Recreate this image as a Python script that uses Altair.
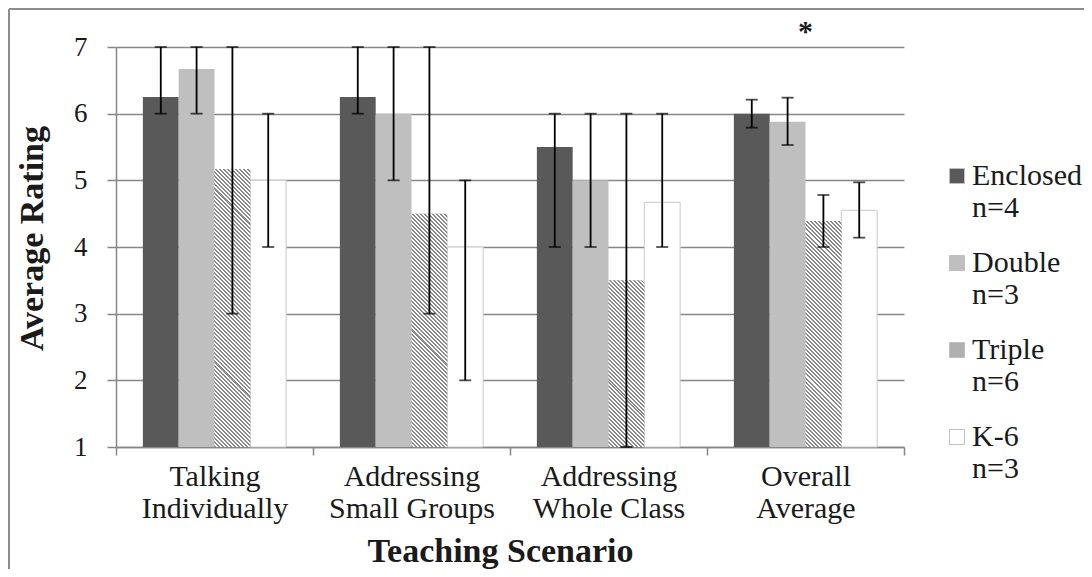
import altair as alt
import pandas as pd

# ---- data ----
categories = ["Talking Individually", "Addressing Small Groups", "Addressing Whole Class", "Overall Average"]
groups = ["Enclosed", "Double", "Triple", "K-6"]
group_n = [4, 3, 6, 3]

enclosed_mean = [6.25, 6.25, 5.5, 6.0]
double_mean = [6.67, 6.0, 5.0, 5.88]
triple_mean = [5.17, 4.5, 3.5, 4.39]
k6_mean = [5.0, 4.0, 4.67, 4.55]

enclosed_low = [6.0, 6.0, 4.0, 5.79]
double_low = [6.0, 5.0, 4.0, 5.53]
triple_low = [3.0, 3.0, 1.0, 4.0]
k6_low = [4.0, 2.0, 4.0, 4.14]

enclosed_high = [7.0, 7.0, 6.0, 6.21]
double_high = [7.0, 7.0, 6.0, 6.24]
triple_high = [7.0, 7.0, 6.0, 4.78]
k6_high = [6.0, 5.0, 6.0, 4.97]

star_category = ["Overall Average"]
star_y = [7.22]

y_ticks = [1, 2, 3, 4, 5, 6, 7]

# ---- build table ----
means = [enclosed_mean, double_mean, triple_mean, k6_mean]
lows = [enclosed_low, double_low, triple_low, k6_low]
highs = [enclosed_high, double_high, triple_high, k6_high]
rows = []
for gi, g in enumerate(groups):
    for ci, c in enumerate(categories):
        rows.append({"category": c, "group": g, "mean": means[gi][ci],
                     "low": lows[gi][ci], "high": highs[gi][ci]})
df = pd.DataFrame(rows)

# ---- layout ----
W, H = 788, 400
YMIN, YMAX = 1, 7
band = W / len(categories)
bar_w = band / 5.5

FONT = "Liberation Serif"
GRID = "#868686"
TEXT = "#1a1a1a"

xscale = alt.Scale(domain=categories, paddingInner=0, paddingOuter=0)
oscale = alt.Scale(domain=groups, paddingInner=0, paddingOuter=0.75)
yscale = alt.Scale(domain=[YMIN, YMAX], nice=False, zero=False)

label_split = ("[substring(datum.label, 0, indexof(datum.label, ' ')), "
               "substring(datum.label, indexof(datum.label, ' ') + 1)]")
n_map = "{" + ", ".join(f"'{g}': 'n={n}'" for g, n in zip(groups, group_n)) + "}"

x_enc = alt.X("category:N", scale=xscale, title="Teaching Scenario",
              axis=alt.Axis(labelAngle=0, tickBand="extent", labelExpr=label_split,
                            labelFontSize=30, labelLineHeight=32, labelPadding=6,
                            labelColor=TEXT, labelFont=FONT,
                            tickSize=8, tickColor=GRID, domainColor=GRID, domainWidth=1.5,
                            tickWidth=1.5, grid=False,
                            titleFontSize=34, titleFontWeight="bold", titleFont=FONT,
                            titleColor=TEXT, titlePadding=11, titleX=384))
o_enc = alt.XOffset("group:N", scale=oscale)
y_enc = alt.Y("mean:Q", scale=yscale, title="Average Rating",
              axis=alt.Axis(values=y_ticks, format="d", grid=True, gridColor=GRID, gridWidth=1.5,
                            domainColor=GRID, domainWidth=1.5, tickColor=GRID, tickWidth=1.5,
                            tickSize=9, labelFontSize=27, labelFont=FONT, labelColor=TEXT,
                            labelPadding=20,
                            titleFontSize=34, titleFontWeight="bold", titleFont=FONT,
                            titleColor=TEXT, titlePadding=24, titleY=191))

fill_colors = ["#595959", "#bfbfbf", "#b0b0b0", "#ffffff"]

bars = alt.Chart(df).mark_bar(strokeWidth=0).encode(
    x=x_enc, xOffset=o_enc, y=y_enc, y2=alt.datum(YMIN),
    color=alt.Color("group:N", scale=alt.Scale(domain=groups, range=fill_colors),
                    legend=alt.Legend(title=None, orient="none", legendX=826, legendY=114,
                                      symbolType="square", symbolSize=225,
                                      symbolStrokeColor="#bfbfbf", symbolStrokeWidth=1,
                                      labelFont=FONT, labelFontSize=30, labelColor=TEXT,
                                      labelExpr="[datum.label, " + n_map + "[datum.label]]",
                                      labelLimit=300, rowPadding=25, labelOffset=0)),
)

# K-6 bars: white with a light grey outline
k6_df = df[df["group"] == "K-6"]
k6_bars = alt.Chart(k6_df).mark_bar(fill="#ffffff", stroke="#c8c8c8", strokeWidth=1).encode(
    x=alt.X("category:N", scale=xscale), xOffset=alt.XOffset("group:N", scale=oscale),
    y=alt.Y("mean:Q", scale=yscale), y2=alt.datum(YMIN))


# Triple bars: diagonal hatching built as hard-stop linear gradients
def hatch(h_px, w_px, period=4.0, ink="#8a8a8a"):
    r = h_px / w_px
    a = (1 + r) / (1 + r * r)
    b = r * a
    n = max(1, int(round((w_px + h_px) / period)))
    stops = []
    for i in range(n):
        o0 = i / n
        o1 = (i + 0.5) / n
        o2 = (i + 1) / n
        stops += [{"offset": o0, "color": ink}, {"offset": o1, "color": ink},
                  {"offset": o1, "color": "#ffffff"}, {"offset": o2, "color": "#ffffff"}]
    return {"gradient": "linear", "x1": 0, "y1": 1, "x2": a, "y2": 1 - b, "stops": stops}


hatch_layers = []
tri_df = df[df["group"] == "Triple"]
for _, row in tri_df.iterrows():
    h_px = (row["mean"] - YMIN) / (YMAX - YMIN) * H
    one = tri_df[tri_df["category"] == row["category"]]
    hatch_layers.append(
        alt.Chart(one).mark_bar(strokeWidth=0).encode(
            x=alt.X("category:N", scale=xscale), xOffset=alt.XOffset("group:N", scale=oscale),
            y=alt.Y("mean:Q", scale=yscale), y2=alt.datum(YMIN),
            fill=alt.value(hatch(h_px, bar_w)))
    )

err_rule = alt.Chart(df).mark_rule(color="#000000", strokeWidth=1.8).encode(
    x=alt.X("category:N", scale=xscale), xOffset=alt.XOffset("group:N", scale=oscale),
    y=alt.Y("low:Q", scale=yscale), y2="high:Q")
cap_low = alt.Chart(df).mark_tick(color="#000000", thickness=1.8, size=12).encode(
    x=alt.X("category:N", scale=xscale), xOffset=alt.XOffset("group:N", scale=oscale),
    y=alt.Y("low:Q", scale=yscale))
cap_high = alt.Chart(df).mark_tick(color="#000000", thickness=1.8, size=12).encode(
    x=alt.X("category:N", scale=xscale), xOffset=alt.XOffset("group:N", scale=oscale),
    y=alt.Y("high:Q", scale=yscale))

star = alt.Chart(pd.DataFrame({"category": star_category, "y": star_y})).mark_text(
    text="*", font=FONT, fontSize=30, fontWeight="bold", color=TEXT, baseline="middle").encode(
    x=alt.X("category:N", scale=xscale), y=alt.Y("y:Q", scale=yscale))

frame_left = alt.Chart(pd.DataFrame({"k": [0]})).mark_rule(color="#8c8c8c", strokeWidth=2).encode(
    x=alt.value(-107), y=alt.value(-38), y2=alt.value(540))
frame_top = alt.Chart(pd.DataFrame({"k": [0]})).mark_rule(color="#8c8c8c", strokeWidth=2).encode(
    x=alt.value(-107), x2=alt.value(990), y=alt.value(-38))

chart = alt.layer(bars, k6_bars, *hatch_layers, err_rule, cap_low, cap_high, star,
                  frame_left, frame_top).properties(
    width=W, height=H,
    padding={"left": 108, "top": 39, "right": 180, "bottom": 122},
    autosize=alt.AutoSizeParams(type="none"),
).configure(background="#ffffff").configure_view(stroke=None)

chart.save("out.html", embed_options={"renderer": "svg", "actions": False})
